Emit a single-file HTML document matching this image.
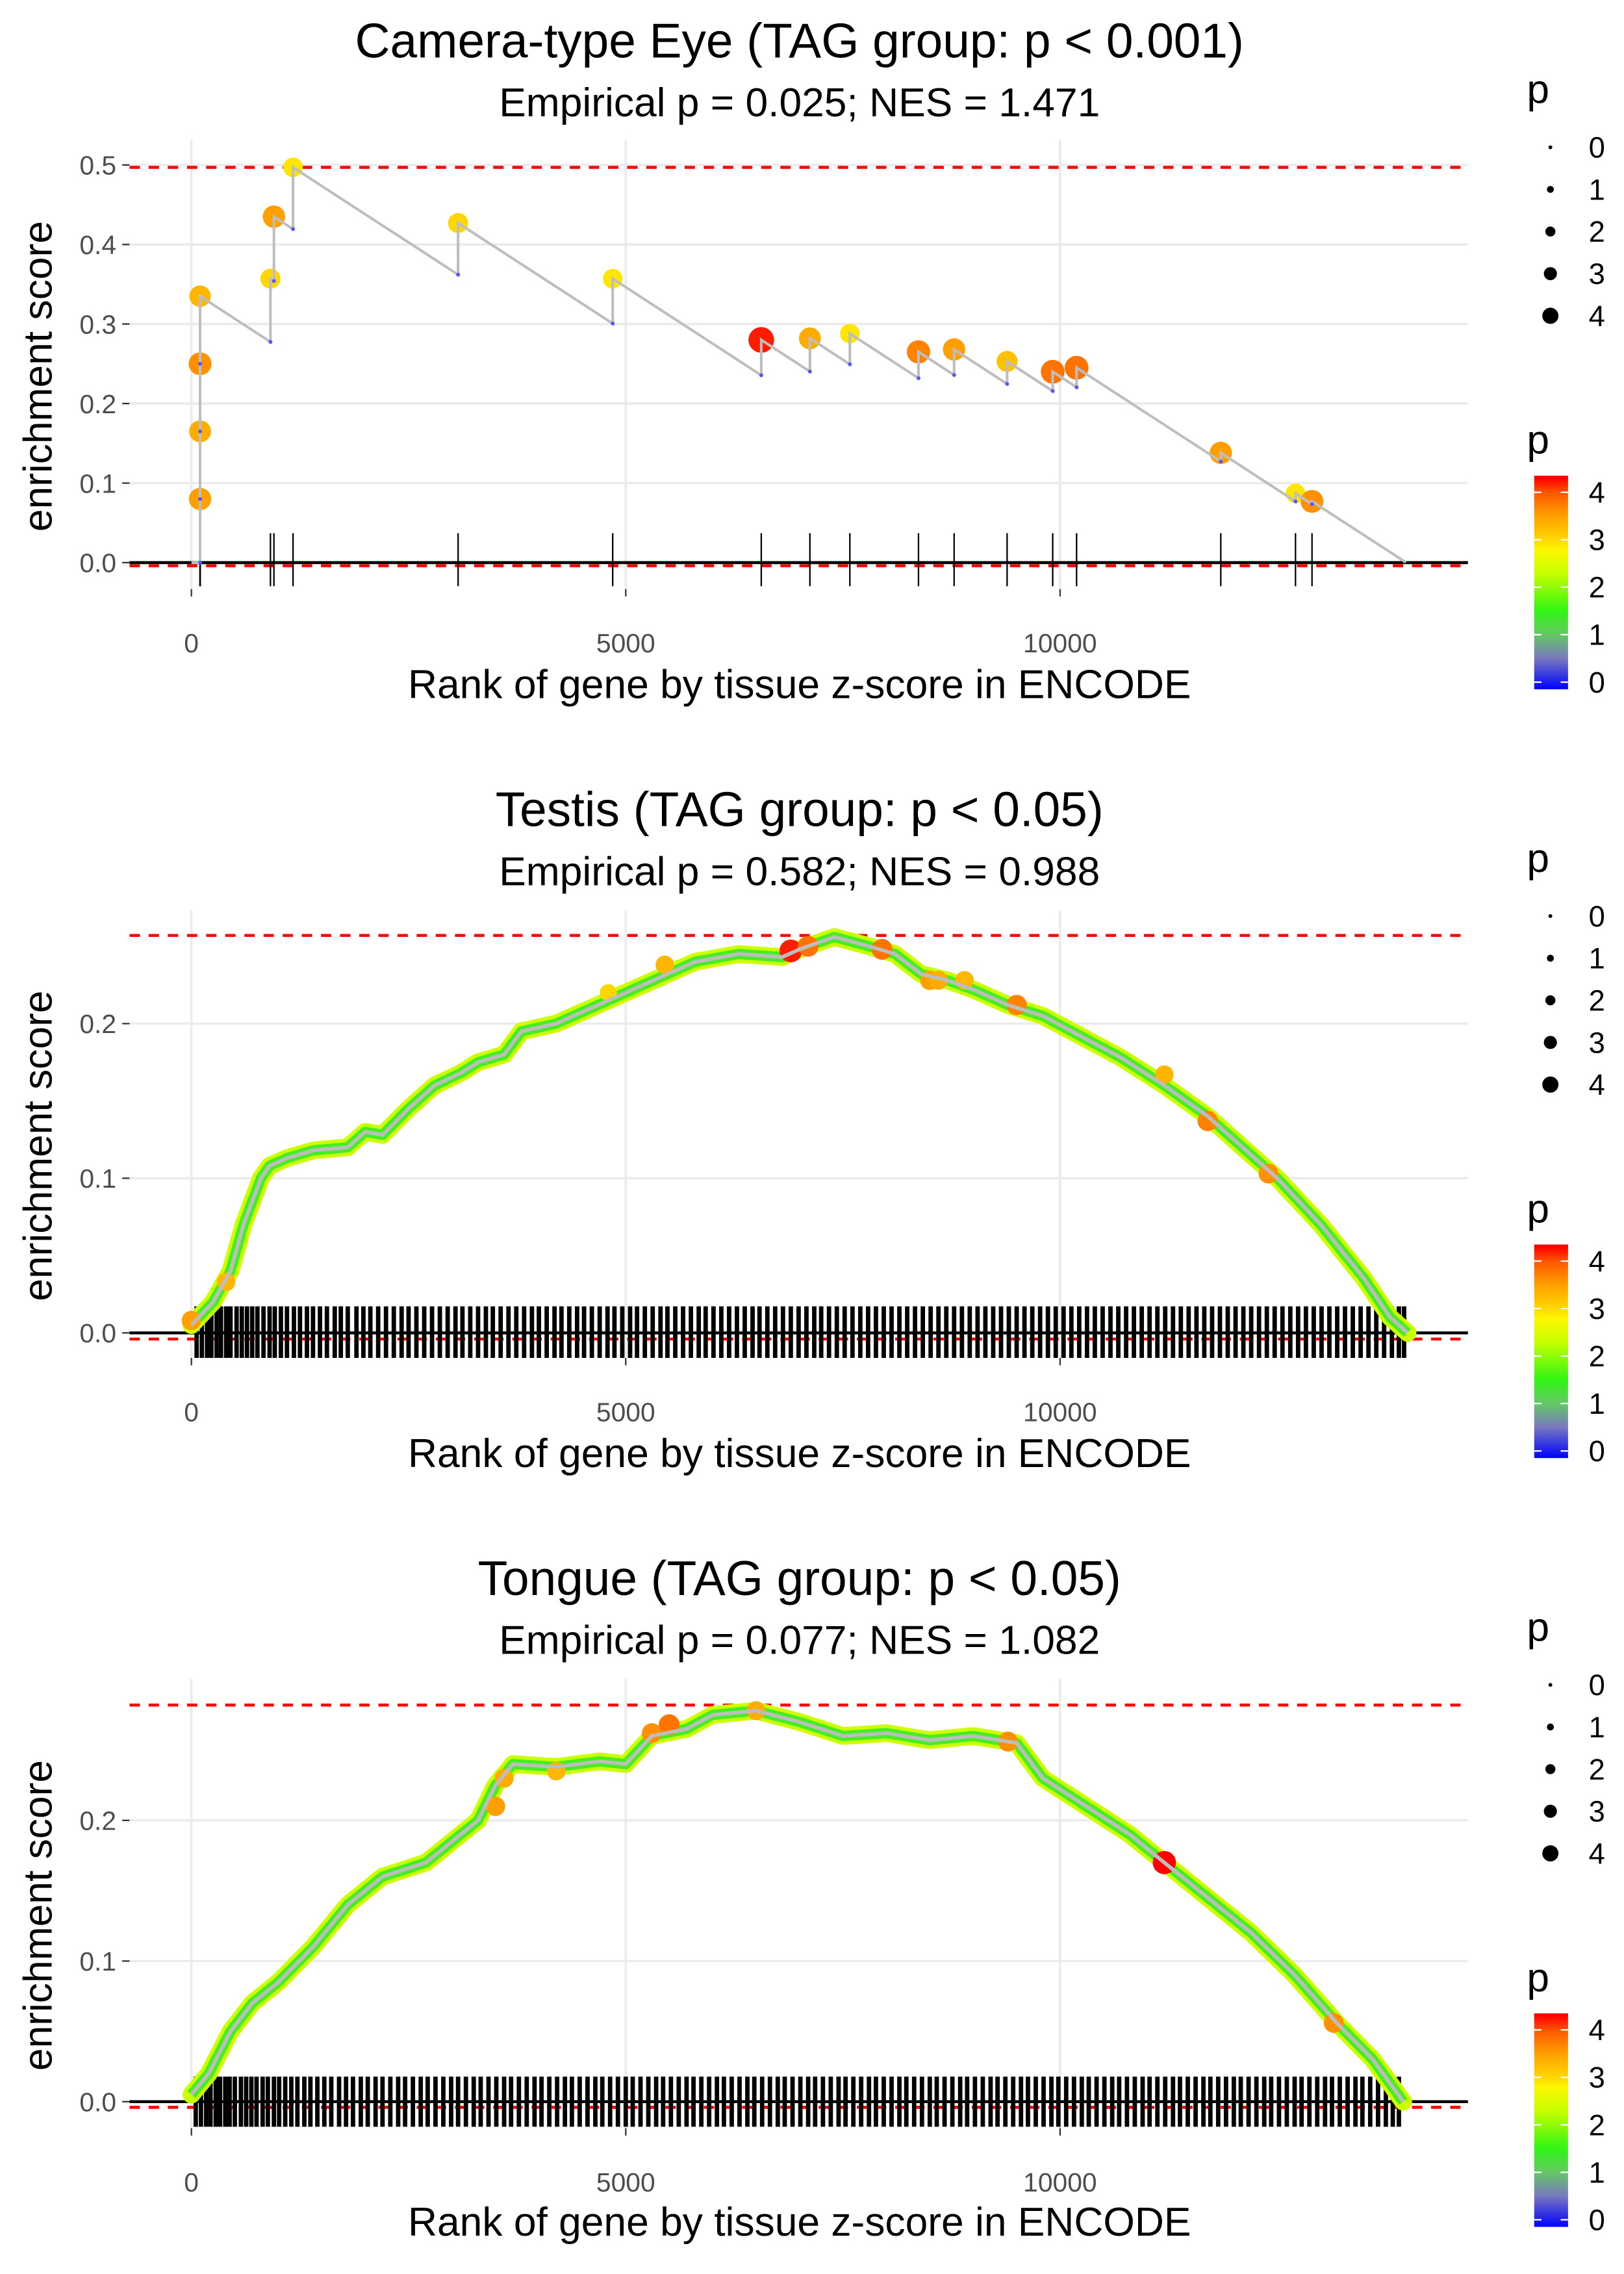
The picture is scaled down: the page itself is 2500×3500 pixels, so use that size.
<!DOCTYPE html>
<html><head><meta charset="utf-8"><style>html,body{margin:0;padding:0;background:#fff}svg{display:block}</style></head>
<body>
<svg id="chart" width="2500" height="3500" viewBox="0 0 1103 1544" preserveAspectRatio="none" xmlns="http://www.w3.org/2000/svg" font-family="Liberation Sans, sans-serif"></svg>
<script>
// ---------- data ----------
const xTicks=[0,5000,10000];
const xTickLabels=["0","5000","10000"];
const p1YTicks=[0,0.1,0.2,0.3,0.4,0.5];
const p1YTickLabels=["0.0","0.1","0.2","0.3","0.4","0.5"];
const p23YTicks=[0,0.1,0.2];
const p23YTickLabels=["0.0","0.1","0.2"];
const titles=["Camera-type Eye (TAG group: p < 0.001)","Testis (TAG group: p < 0.05)","Tongue (TAG group: p < 0.05)"];
const subtitles=["Empirical p = 0.025; NES = 1.471","Empirical p = 0.582; NES = 0.988","Empirical p = 0.077; NES = 1.082"];
const maxES=[0.497,0.257,0.282];
const totalGenes=13980;
// panel 1 hits
const p1Rank=[100,100,100,100,910,950,1170,3070,4850,6560,7120,7580,8370,8780,9390,9915,10190,11850,12710,12900];
const p1Top=[0.08,0.165,0.25,0.335,0.357,0.435,0.497,0.427,0.357,0.28,0.282,0.288,0.265,0.268,0.253,0.24,0.245,0.138,0.087,0.077];
const p1P=[3.5,3.4,3.6,3.3,3.0,3.5,2.9,3.0,2.9,4.2,3.4,2.9,3.7,3.5,3.2,3.8,3.8,3.5,2.9,3.6];
// panel 2 running ES
const p2Rank=[0,250,450,600,800,900,1100,1400,1800,2000,2200,2500,2800,3100,3300,3600,3800,4200,4600,5000,5400,5800,6300,6800,7000,7400,7800,8100,8400,8700,9000,9400,9800,10300,10700,11200,11700,12200,12500,13000,13500,13800,14000];
const p2ES=[0.005,0.02,0.04,0.07,0.1,0.108,0.113,0.118,0.12,0.13,0.128,0.145,0.16,0.168,0.175,0.18,0.195,0.2,0.21,0.22,0.23,0.24,0.245,0.243,0.248,0.256,0.25,0.245,0.232,0.228,0.222,0.212,0.205,0.19,0.178,0.16,0.14,0.115,0.1,0.07,0.035,0.01,0.0];
const p2HiRank=[0,400,4800,5450,6900,7100,7950,8500,8600,8900,9500,11200,11700,12400];
const p2HiES=[0.008,0.033,0.22,0.238,0.247,0.25,0.248,0.228,0.228,0.228,0.212,0.167,0.137,0.103];
const p2HiP=[3.5,3.3,3.0,3.3,4.2,3.8,3.8,3.5,3.4,3.3,3.7,3.3,3.7,3.6];
const p2Rug=[60,120,180,230,290,340,400,450,520,580,640,700,760,830,900,960,1030,1100,1180,1250,1330,1400,1480,1560,1650,1720,1800,1900,1980,2060,2150,2240,2330,2420,2500,2590,2680,2770,2860,2950,3040,3120,3210,3300,3390,3470,3560,3650,3740,3830,3920,4000,4090,4180,4260,4350,4440,4520,4610,4700,4790,4870,4960,5050,5130,5220,5310,5400,5480,5570,5660,5750,5840,5920,6010,6100,6190,6280,6370,6460,6540,6630,6720,6810,6900,6990,7080,7170,7250,7340,7430,7520,7610,7700,7790,7880,7970,8060,8150,8240,8330,8420,8510,8600,8690,8780,8870,8960,9050,9140,9230,9320,9410,9500,9590,9680,9770,9860,9950,10040,10130,10220,10310,10400,10490,10580,10670,10760,10850,10940,11030,11120,11210,11300,11390,11480,11570,11660,11750,11840,11930,12020,12110,12200,12290,12380,12470,12560,12650,12740,12830,12920,13010,13100,13190,13280,13370,13460,13550,13640,13730,13820,13900,13960];
// panel 3 running ES
const p3Rank=[0,200,450,700,1000,1400,1800,2200,2700,3000,3300,3500,3700,4200,4700,5000,5300,5700,6000,6500,7000,7500,8000,8500,9000,9500,9800,10300,10800,11200,11700,12200,12700,13200,13600,13950];
const p3ES=[0.005,0.02,0.05,0.07,0.085,0.11,0.14,0.16,0.17,0.185,0.2,0.225,0.24,0.238,0.242,0.24,0.26,0.265,0.275,0.278,0.27,0.26,0.262,0.257,0.26,0.255,0.23,0.21,0.19,0.17,0.145,0.12,0.09,0.055,0.03,0.0];
const p3HiRank=[3500,3600,4200,5300,5500,6500,9400,11200,13150];
const p3HiES=[0.21,0.23,0.235,0.262,0.268,0.278,0.256,0.17,0.056];
const p3HiP=[3.5,3.4,3.3,3.6,3.8,3.4,3.6,4.3,3.6];
const p3Rug=[50,110,170,220,280,330,390,440,500,570,630,690,750,820,880,950,1010,1080,1150,1220,1300,1370,1450,1530,1610,1700,1780,1860,1950,2030,2120,2200,2290,2380,2460,2550,2640,2720,2810,2900,2990,3070,3160,3250,3330,3420,3510,3600,3680,3770,3860,3950,4030,4120,4210,4300,4380,4470,4560,4650,4730,4820,4910,5000,5080,5170,5260,5350,5430,5520,5610,5700,5780,5870,5960,6050,6130,6220,6310,6400,6480,6570,6660,6750,6830,6920,7010,7100,7180,7270,7360,7450,7530,7620,7710,7800,7880,7970,8060,8150,8230,8320,8410,8500,8580,8670,8760,8850,8930,9020,9110,9200,9280,9370,9460,9550,9630,9720,9810,9900,9980,10070,10160,10250,10330,10420,10510,10600,10680,10770,10860,10950,11030,11120,11210,11300,11380,11470,11560,11650,11730,11820,11910,12000,12080,12170,12260,12350,12430,12520,12610,12700,12780,12870,12960,13050,13130,13220,13310,13400,13480,13570,13660,13750,13830,13900];
const legendSizes=[0,1,2,3,4];
const colorbarTicks=[0,1,2,3,4];

// ---------- helpers ----------
const NS="http://www.w3.org/2000/svg";
const svg=document.getElementById('chart');
function mk(tag,attrs,parent){const e=document.createElementNS(NS,tag);for(const k in attrs)e.setAttribute(k,attrs[k]);(parent||svg).appendChild(e);return e;}
const stops=[[-0.15,[0,0,255]],[0.5,[120,120,190]],[1,[100,200,100]],[1.5,[50,245,20]],[2.3,[200,255,0]],[2.8,[255,245,0]],[3.0,[255,215,0]],[3.5,[255,160,0]],[4.0,[255,85,0]],[4.3,[255,0,0]]];
function pColor(p){if(p<=stops[0][0])return 'rgb(0,0,255)';for(let i=1;i<stops.length;i++){if(p<=stops[i][0]){const a=stops[i-1],b=stops[i],t=(p-a[0])/(b[0]-a[0]);const c=a[1].map((v,j)=>Math.round(v+(b[1][j]-v)*t));return `rgb(${c})`;}}return 'rgb(255,0,0)';}
function pRadius(p){return 2+p*1.6;}
const X0=130,XS=0.059,PL=88,PR=997;
function xS(r){return X0+r*XS;}

const panels=[
 {oy:0,y0:382,ys:540,top:95,bot:400,yt:p1YTicks,ytl:p1YTickLabels,rugTop:362,rugBot:398},
 {oy:522,y0:905,ys:1050,top:618,bot:922,yt:p23YTicks,ytl:p23YTickLabels,rugTop:887,rugBot:922},
 {oy:1044,y0:1427,ys:955,top:1140,bot:1445,yt:p23YTicks,ytl:p23YTickLabels,rugTop:1410,rugBot:1444}
];

panels.forEach((P,i)=>{
 const g=mk('g',{});
 
 
 const yS=v=>P.y0-v*P.ys;
 const t=mk('text',{x:543,y:P.oy+39,'text-anchor':'middle','font-size':33,fill:'#000'},g);t.textContent=titles[i];
 
 
 const st=mk('text',{x:543,y:P.oy+79,'text-anchor':'middle','font-size':27.5,fill:'#000'},g);st.textContent=subtitles[i];
 
 
 P.yt.forEach((v,k)=>{
  const gl=mk('line',{x1:PL,x2:PR,y1:yS(v),y2:yS(v),stroke:'#ebebeb','stroke-width':1.6},g);
  
  
  mk('line',{x1:83,x2:88,y1:yS(v),y2:yS(v),stroke:'#333','stroke-width':1},g);
  const tl=mk('text',{x:79,y:yS(v)+6.5,'text-anchor':'end','font-size':18,fill:'#4d4d4d'},g);tl.textContent=P.ytl[k];
  
  
 });
 xTicks.forEach((v,k)=>{
  const gl=mk('line',{x1:xS(v),x2:xS(v),y1:P.top,y2:P.bot,stroke:'#ebebeb','stroke-width':1.6},g);
  
  
  mk('line',{x1:xS(v),x2:xS(v),y1:P.bot,y2:P.bot+5,stroke:'#333','stroke-width':1},g);
  const tl=mk('text',{x:xS(v),y:P.bot+43,'text-anchor':'middle','font-size':18,fill:'#4d4d4d'},g);tl.textContent=xTickLabels[k];
  
  
 });
 const xt=mk('text',{x:543,y:P.oy+474,'text-anchor':'middle','font-size':27.5,fill:'#000'},g);xt.textContent='Rank of gene by tissue z-score in ENCODE';
 
 
 const yy=(P.top+P.bot)/2+8;
 const yt=mk('text',{x:0,y:0,'text-anchor':'middle','font-size':27.5,fill:'#000',transform:`translate(35,${yy}) rotate(-90)`},g);yt.textContent='enrichment score';
 
 
 [maxES[i],-0.004].forEach(v=>{
  const d=mk('line',{x1:PL,x2:PR,y1:yS(v),y2:yS(v),stroke:'#ff0000','stroke-width':2,'stroke-dasharray':'7,6'},g);
  
  
 });
 const zl=mk('line',{x1:PL,x2:PR,y1:yS(0),y2:yS(0),stroke:'#000','stroke-width':2},g);
 
 

 if(i===0){
  const slope=7.1e-5;
  let pts=[[0,0]],prevR=0,prevT=0;const bottoms=[];
  p1Rank.forEach((r,k)=>{const b=Math.max(0,prevT-slope*(r-prevR));bottoms.push(b);pts.push([r,b]);pts.push([r,p1Top[k]]);prevR=r;prevT=p1Top[k];});
  pts.push([totalGenes,Math.max(0,prevT-slope*(totalGenes-prevR))]);
  p1Rank.forEach(r=>{const rl=mk('line',{x1:xS(r),x2:xS(r),y1:P.rugTop,y2:P.rugBot,stroke:'#000','stroke-width':1},g);
   
   });
  p1Rank.forEach((r,k)=>{const c=mk('circle',{cx:xS(r),cy:yS(p1Top[k]),r:pRadius(p1P[k]),fill:pColor(p1P[k])},g);
   
   });
  const pl=mk('polyline',{points:pts.map(p=>xS(p[0])+','+yS(p[1])).join(' '),fill:'none',stroke:'#bebebe','stroke-width':1.8},g);
  
  
  p1Rank.forEach((r,k)=>{const c=mk('circle',{cx:xS(r),cy:yS(bottoms[k]),r:1.3,fill:'#5555ff'},g);
   
   });
 } else {
  const R=i===1?p2Rank:p3Rank,E=i===1?p2ES:p3ES,HR=i===1?p2HiRank:p3HiRank,HE=i===1?p2HiES:p3HiES,HP=i===1?p2HiP:p3HiP,RUG=i===1?p2Rug:p3Rug;
  RUG.forEach(r=>{const rl=mk('line',{x1:xS(r),x2:xS(r),y1:P.rugTop,y2:P.rugBot,stroke:'#000','stroke-width':3},g);
   
   });
  const ptsStr=R.map((r,k)=>xS(r)+','+yS(E[k])).join(' ');
  const l1=mk('polyline',{points:ptsStr,fill:'none',stroke:'#ccff00','stroke-width':12,'stroke-linejoin':'round','stroke-linecap':'round'},g);
  
  
  const l2=mk('polyline',{points:ptsStr,fill:'none',stroke:'#44ee22','stroke-width':7,'stroke-linejoin':'round'},g);
  
  
  HR.forEach((r,k)=>{const c=mk('circle',{cx:xS(r),cy:yS(HE[k]),r:pRadius(HP[k])-1,fill:pColor(HP[k])},g);
   
   });
  const l3=mk('polyline',{points:ptsStr,fill:'none',stroke:'#bdbdbd','stroke-width':2.5,'stroke-linejoin':'round'},g);
  
  
 }

 const lt=mk('text',{x:1037,y:P.oy+70,'font-size':27.5,fill:'#000'},g);lt.textContent='p';
 
 
 legendSizes.forEach((s,k)=>{
  const cy=P.oy+100+k*28.6;
  const c=mk('circle',{cx:1053,cy:cy,r:1.3+s*1.05,fill:'#000'},g);
  
  
  const tx=mk('text',{x:1079,y:cy+7,'font-size':20,fill:'#000'},g);tx.textContent=String(s);
  
  
 });
 const ct=mk('text',{x:1037,y:P.oy+308,'font-size':27.5,fill:'#000'},g);ct.textContent='p';
 
 
 const cbTop=P.oy+323,cbBot=P.oy+468,vMin=-0.15,vMax=4.35;
 const cv=v=>cbBot-(v-vMin)/(vMax-vMin)*(cbBot-cbTop);
 const gid='cbgrad'+i;
 const defs=mk('defs',{},g);
 const lg=mk('linearGradient',{id:gid,x1:0,y1:1,x2:0,y2:0},defs);
 stops.forEach(s=>{mk('stop',{offset:((s[0]-vMin)/(vMax-vMin)).toFixed(3),'stop-color':`rgb(${s[1]})`},lg);});
 const cb=mk('rect',{x:1042,y:cbTop,width:23,height:cbBot-cbTop,fill:`url(#${gid})`},g);
 
 
 colorbarTicks.forEach(v=>{
  mk('line',{x1:1042,x2:1047,y1:cv(v),y2:cv(v),stroke:'#fff','stroke-width':1},g);
  mk('line',{x1:1060,x2:1065,y1:cv(v),y2:cv(v),stroke:'#fff','stroke-width':1},g);
  const tx=mk('text',{x:1079,y:cv(v)+7,'font-size':20,fill:'#000'},g);tx.textContent=String(v);
  
  
 });
});
</script>
</body></html>
